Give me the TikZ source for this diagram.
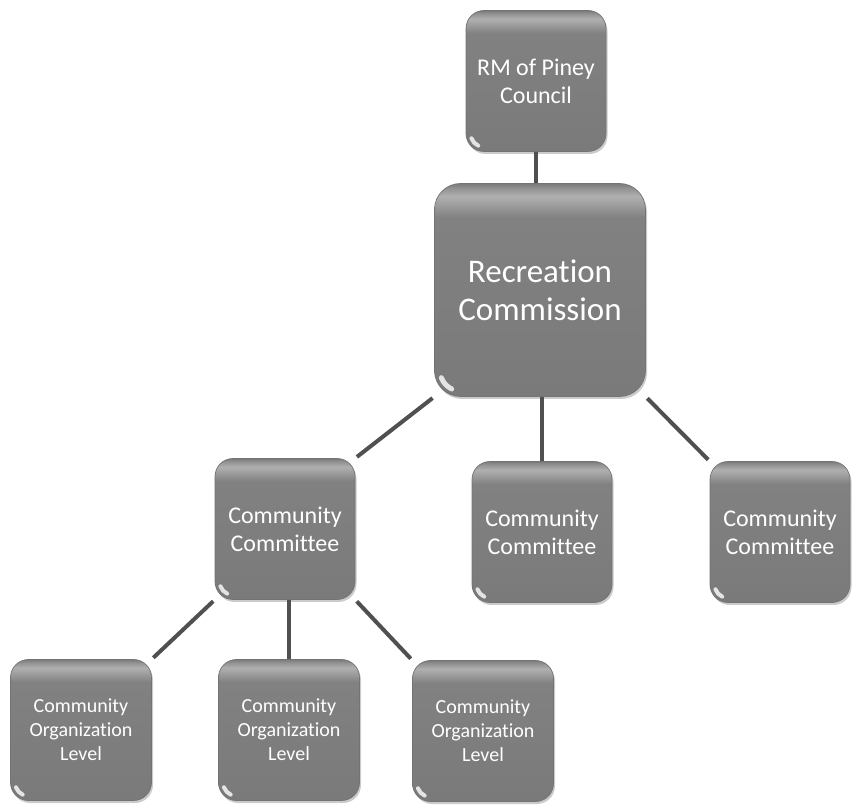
\documentclass[tikz,border=0pt]{standalone}
\usepackage{fontspec}
\setmainfont{Carlito}[Ligatures=NoCommon]
\usetikzlibrary{shadows}
\definecolor{gA}{HTML}{7A7A7A}
\definecolor{gB}{HTML}{818181}
\definecolor{gC}{HTML}{B0B0B0}
\definecolor{gD}{HTML}{909090}
\definecolor{gE}{HTML}{7A7A7A}
\definecolor{lineg}{HTML}{505050}
\pgfdeclareverticalshading{boxshade}{100bp}{color(0bp)=(gA); color(25bp)=(gA); color(67bp)=(gB); color(72bp)=(gC); color(74bp)=(gD); color(75bp)=(gE); color(100bp)=(gE)}
\tikzset{
  box/.style={rounded corners=18pt, draw=black!55, line width=0.7pt, shading=boxshade,
    drop shadow={shadow xshift=1.5pt, shadow yshift=-2.5pt, fill=black!45, opacity=0.45},
    text=white, align=center, inner sep=0pt},
  small/.style={box, minimum width=140pt, minimum height=141pt, font=\fontsize{24}{28}\selectfont},
  tiny/.style={box, minimum width=141pt, minimum height=141pt, font=\fontsize{20}{24}\selectfont},
  big/.style={box, rounded corners=26pt, minimum width=211pt, minimum height=213pt, font=\fontsize{33}{38}\selectfont},
  conn/.style={draw=lineg, line width=4pt},
  glint/.style={draw=white, line width=4pt, line cap=round, opacity=0.8}
}
\begin{document}
\begin{tikzpicture}[x=1pt,y=1pt]
\useasboundingbox (0,0) rectangle (859,806);
\node[small] (rm) at (536,725) {RM of Piney\\Council};
\node[big] (rc) at (540,516) {Recreation\\Commission};
\node[small] (cc1) at (285,277) {Community\\Committee};
\node[small] (cc2) at (542,274) {Community\\Committee};
\node[small] (cc3) at (780,274) {Community\\Committee};
\node[tiny] (col1) at (81,76) {Community\\Organization\\Level};
\node[tiny] (col2) at (289,76) {Community\\Organization\\Level};
\node[tiny] (col3) at (483,75) {Community\\Organization\\Level};
\foreach \n in {rm,cc1,cc2,cc3,col1,col2,col3}{
  \draw[glint] ([shift={(18pt,18pt)}]\n.south west) ++(200:13pt) arc[start angle=200,end angle=245,radius=13pt];
}
\draw[glint, line width=5pt] ([shift={(26pt,26pt)}]rc.south west) ++(200:20pt) arc[start angle=200,end angle=245,radius=20pt];
\draw[conn] (rm.south) -- (rm.south |- rc.north);
\draw[conn] (cc2.north) -- (cc2.north |- rc.south);
\draw[conn, shorten <=2pt, shorten >=2pt] (rc.south west) -- (cc1.north east);
\draw[conn, shorten <=2pt, shorten >=2pt] (rc.south east) -- (cc3.north west);
\draw[conn] (col2.north) -- (col2.north |- cc1.south);
\draw[conn, shorten <=2pt, shorten >=2pt] (cc1.south west) -- (col1.north east);
\draw[conn, shorten <=2pt, shorten >=2pt] (cc1.south east) -- (col3.north west);
\end{tikzpicture}
\end{document}
